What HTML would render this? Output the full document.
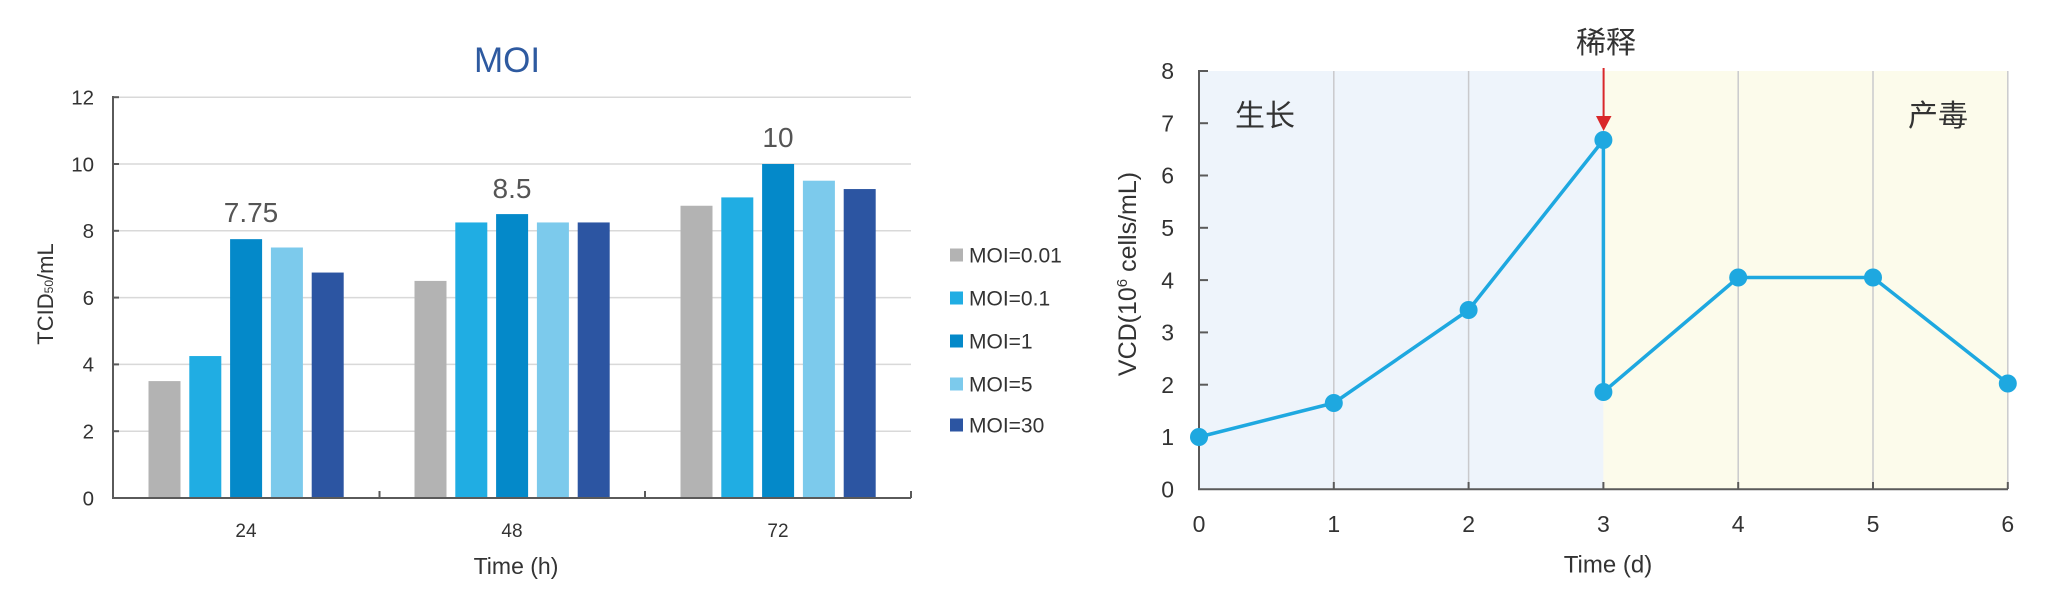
<!DOCTYPE html>
<html>
<head>
<meta charset="utf-8">
<style>
  html, body { margin: 0; padding: 0; background: #ffffff; }
  svg { display: block; }
  text { font-family: "Liberation Sans", "Noto Sans CJK SC", sans-serif; }
</style>
</head>
<body>
<svg width="2048" height="596" viewBox="0 0 2048 596" xmlns="http://www.w3.org/2000/svg">
  <rect x="0" y="0" width="2048" height="596" fill="#ffffff"/>

  <!-- ================= LEFT CHART ================= -->
  <text x="507" y="72" font-size="35" fill="#2e5aa0" text-anchor="middle">MOI</text>

  <!-- gridlines -->
  <g stroke="#d9d9d9" stroke-width="1.5">
    <line x1="113" y1="97.2" x2="911" y2="97.2"/>
    <line x1="113" y1="164" x2="911" y2="164"/>
    <line x1="113" y1="230.8" x2="911" y2="230.8"/>
    <line x1="113" y1="297.6" x2="911" y2="297.6"/>
    <line x1="113" y1="364.4" x2="911" y2="364.4"/>
    <line x1="113" y1="431.2" x2="911" y2="431.2"/>
  </g>

  <!-- bars: y(v)=498-33.4v -->
  <rect x="148.5" y="381.1" width="32" height="116.9" fill="#b3b3b3"/>
  <rect x="189.3" y="356.05" width="32" height="141.95" fill="#20ade3"/>
  <rect x="230.1" y="239.15" width="32" height="258.85" fill="#0489c9"/>
  <rect x="270.9" y="247.5" width="32" height="250.5" fill="#7ccaec"/>
  <rect x="311.7" y="272.55" width="32" height="225.45" fill="#2c55a2"/>

  <rect x="414.5" y="280.9" width="32" height="217.1" fill="#b3b3b3"/>
  <rect x="455.3" y="222.45" width="32" height="275.55" fill="#20ade3"/>
  <rect x="496.1" y="214.1" width="32" height="283.9" fill="#0489c9"/>
  <rect x="536.9" y="222.45" width="32" height="275.55" fill="#7ccaec"/>
  <rect x="577.7" y="222.45" width="32" height="275.55" fill="#2c55a2"/>

  <rect x="680.5" y="205.75" width="32" height="292.25" fill="#b3b3b3"/>
  <rect x="721.3" y="197.4" width="32" height="300.6" fill="#20ade3"/>
  <rect x="762.1" y="164" width="32" height="334" fill="#0489c9"/>
  <rect x="802.9" y="180.7" width="32" height="317.3" fill="#7ccaec"/>
  <rect x="843.7" y="189.05" width="32" height="308.95" fill="#2c55a2"/>

  <!-- axes -->
  <g stroke="#5a5a5a" stroke-width="2" fill="none">
    <line x1="113" y1="96" x2="113" y2="499"/>
    <line x1="112" y1="498" x2="911" y2="498"/>
    <line x1="379.5" y1="491" x2="379.5" y2="498"/>
    <line x1="645" y1="491" x2="645" y2="498"/>
    <line x1="911" y1="491" x2="911" y2="498"/>
    <line x1="113" y1="97.2" x2="119" y2="97.2"/>
    <line x1="113" y1="164" x2="119" y2="164"/>
    <line x1="113" y1="230.8" x2="119" y2="230.8"/>
    <line x1="113" y1="297.6" x2="119" y2="297.6"/>
    <line x1="113" y1="364.4" x2="119" y2="364.4"/>
    <line x1="113" y1="431.2" x2="119" y2="431.2"/>
  </g>

  <!-- y tick labels -->
  <g font-size="20.5" fill="#333333" text-anchor="end">
    <text x="94" y="104.5">12</text>
    <text x="94" y="171.3">10</text>
    <text x="94" y="238.1">8</text>
    <text x="94" y="304.9">6</text>
    <text x="94" y="371.7">4</text>
    <text x="94" y="438.5">2</text>
    <text x="94" y="505.3">0</text>
  </g>

  <!-- x tick labels -->
  <g font-size="19" fill="#333333" text-anchor="middle">
    <text x="246" y="537">24</text>
    <text x="512" y="537">48</text>
    <text x="778" y="537">72</text>
  </g>
  <text x="516" y="574" font-size="23" fill="#333333" text-anchor="middle">Time (h)</text>

  <!-- y axis label -->
  <text transform="translate(53,294) rotate(-90)" font-size="22" fill="#333333" text-anchor="middle">TCID<tspan font-size="12">50</tspan>/mL</text>

  <!-- value labels -->
  <g font-size="28" fill="#555555" text-anchor="middle">
    <text x="251" y="222">7.75</text>
    <text x="512" y="198">8.5</text>
    <text x="778" y="147">10</text>
  </g>

  <!-- legend -->
  <rect x="950" y="248.5" width="13" height="13" fill="#b3b3b3"/>
  <rect x="950" y="291.5" width="13" height="13" fill="#20ade3"/>
  <rect x="950" y="334.5" width="13" height="13" fill="#0489c9"/>
  <rect x="950" y="377.5" width="13" height="13" fill="#7ccaec"/>
  <rect x="950" y="418.5" width="13" height="13" fill="#2c55a2"/>
  <g font-size="21" fill="#333333">
    <text x="969" y="262.5">MOI=0.01</text>
    <text x="969" y="305.5">MOI=0.1</text>
    <text x="969" y="348.5">MOI=1</text>
    <text x="969" y="391.5">MOI=5</text>
    <text x="969" y="432.5">MOI=30</text>
  </g>

  <!-- ================= RIGHT CHART ================= -->
  <rect x="1199" y="71" width="404.4" height="418.3" fill="#eef4fb"/>
  <rect x="1603.4" y="71" width="404.6" height="418.3" fill="#fcfbeb"/>

  <g stroke="#c9c9cc" stroke-width="1.5">
    <line x1="1333.8" y1="71" x2="1333.8" y2="489"/>
    <line x1="1468.6" y1="71" x2="1468.6" y2="489"/>
    <line x1="1738.2" y1="71" x2="1738.2" y2="489"/>
    <line x1="1873" y1="71" x2="1873" y2="489"/>
    <line x1="2007.8" y1="71" x2="2007.8" y2="489"/>
  </g>

  <!-- axes -->
  <g stroke="#5a5a5a" stroke-width="2" fill="none">
    <line x1="1199" y1="70" x2="1199" y2="490"/>
    <line x1="1198" y1="489.3" x2="2008" y2="489.3"/>
    <line x1="1199" y1="71" x2="1208" y2="71"/>
    <line x1="1199" y1="123.2" x2="1208" y2="123.2"/>
    <line x1="1199" y1="175.5" x2="1208" y2="175.5"/>
    <line x1="1199" y1="227.8" x2="1208" y2="227.8"/>
    <line x1="1199" y1="280.1" x2="1208" y2="280.1"/>
    <line x1="1199" y1="332.4" x2="1208" y2="332.4"/>
    <line x1="1199" y1="384.7" x2="1208" y2="384.7"/>
    <line x1="1199" y1="437" x2="1208" y2="437"/>
    <line x1="1333.8" y1="482" x2="1333.8" y2="489"/>
    <line x1="1468.6" y1="482" x2="1468.6" y2="489"/>
    <line x1="1603.4" y1="482" x2="1603.4" y2="489"/>
    <line x1="1738.2" y1="482" x2="1738.2" y2="489"/>
    <line x1="1873" y1="482" x2="1873" y2="489"/>
    <line x1="2007.8" y1="482" x2="2007.8" y2="489"/>
  </g>

  <!-- y tick labels -->
  <g font-size="23" fill="#333333" text-anchor="end">
    <text x="1174" y="79.2">8</text>
    <text x="1174" y="131.4">7</text>
    <text x="1174" y="183.7">6</text>
    <text x="1174" y="236">5</text>
    <text x="1174" y="288.3">4</text>
    <text x="1174" y="340.6">3</text>
    <text x="1174" y="392.9">2</text>
    <text x="1174" y="445.2">1</text>
    <text x="1174" y="497.5">0</text>
  </g>

  <!-- x tick labels -->
  <g font-size="23" fill="#333333" text-anchor="middle">
    <text x="1199" y="532.2">0</text>
    <text x="1333.8" y="532.2">1</text>
    <text x="1468.6" y="532.2">2</text>
    <text x="1603.4" y="532.2">3</text>
    <text x="1738.2" y="532.2">4</text>
    <text x="1873" y="532.2">5</text>
    <text x="2007.8" y="532.2">6</text>
  </g>
  <text x="1608" y="572.5" font-size="24" fill="#333333" text-anchor="middle">Time (d)</text>

  <!-- y axis label -->
  <text transform="translate(1136,274) rotate(-90)" font-size="25" fill="#333333" text-anchor="middle">VCD(10<tspan font-size="15" dy="-9">6</tspan><tspan dy="9"> cells/mL)</tspan></text>

  <!-- region labels -->
  <g font-size="30" fill="#333333" text-anchor="middle">
    <text x="1265" y="126">生长</text>
    <text x="1938" y="126">产毒</text>
    <text x="1606" y="53">稀释</text>
  </g>

  <!-- data line -->
  <polyline fill="none" stroke="#1ea8e0" stroke-width="3.5" stroke-linejoin="round"
    points="1199,437 1333.8,403 1468.6,310 1603.4,140 1603.4,392 1738.2,277.5 1873,277.5 2007.8,383.5"/>
  <g fill="#1ea8e0">
    <circle cx="1199" cy="437" r="9"/>
    <circle cx="1333.8" cy="403" r="9"/>
    <circle cx="1468.6" cy="310" r="9"/>
    <circle cx="1603.4" cy="140" r="9"/>
    <circle cx="1603.4" cy="392" r="9"/>
    <circle cx="1738.2" cy="277.5" r="9"/>
    <circle cx="1873" cy="277.5" r="9"/>
    <circle cx="2007.8" cy="383.5" r="9"/>
  </g>

  <!-- red arrow -->
  <line x1="1603.6" y1="68" x2="1603.6" y2="118" stroke="#d9282a" stroke-width="2"/>
  <polygon points="1596,116 1611.5,116 1603.6,131" fill="#d9282a"/>
</svg>
</body>
</html>
